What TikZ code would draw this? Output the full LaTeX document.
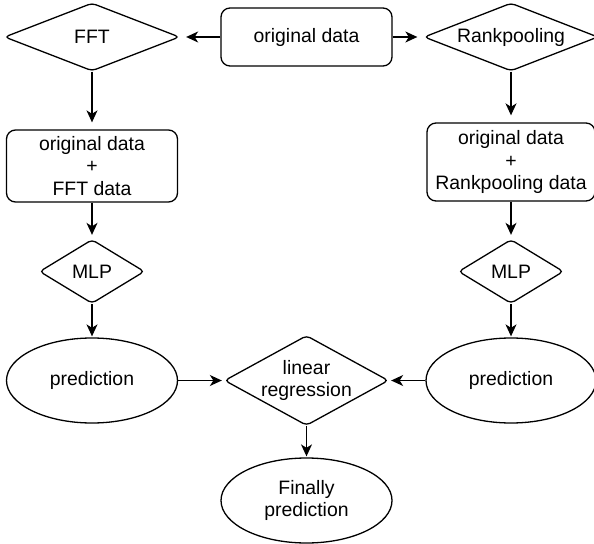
\documentclass[tikz,border=0pt]{standalone}
\usepackage{fontspec}
\setmainfont{Liberation Sans}
\usetikzlibrary{shapes.geometric,arrows.meta}
\begin{document}
\begin{tikzpicture}[x=1bp,y=-1bp,
  base/.style={draw, line width=1.3bp, font=\fontsize{19.5}{22.5}\selectfont, align=center, inner sep=0pt},
  dia/.style={base, diamond, rounded corners=4bp},
  box/.style={base, rectangle, rounded corners=9bp},
  ell/.style={base, ellipse},
  arr/.style={line width=1.3bp, -{Stealth[length=12bp,width=11bp,inset=3.5bp]}},
  lbl/.style={font=\fontsize{19.5}{22.5}\selectfont, align=center, inner sep=0pt}
]
\useasboundingbox (0,0) rectangle (594,544);

\node[box, minimum width=171bp, minimum height=58bp] (orig) at (306.5,37) {original data};
\node[dia, minimum width=175bp, minimum height=68bp, label={[lbl]center:FFT}] (fft) at (92,37) {};
\node[dia, minimum width=174bp, minimum height=68bp, label={[lbl]center:Rankpooling}] (rank) at (511,37) {};

\node[box, minimum width=171bp, minimum height=72bp] (lrect) at (92,166) {original data\\+\\FFT data};
\node[box, minimum width=168bp, minimum height=78bp] (rrect) at (511,162) {original data\\+\\Rankpooling data};

\node[dia, minimum width=105bp, minimum height=64bp, label={[lbl]center:MLP}] (lmlp) at (92,271.5) {};
\node[dia, minimum width=105bp, minimum height=64bp, label={[lbl]center:MLP}] (rmlp) at (511,271.5) {};

\node[ell, minimum width=171bp, minimum height=85bp] (lpred) at (92,380.5) {prediction};
\node[ell, minimum width=170bp, minimum height=85bp] (rpred) at (511,380.5) {prediction};
\node[dia, minimum width=164bp, minimum height=90bp, label={[lbl]center:linear\\regression}] (lr) at (306.5,380.5) {};

\node[ell, minimum width=171bp, minimum height=85bp] (fin) at (306.5,500.5) {Finally\\prediction};

\draw[arr, shorten >=6bp] (orig) -- (fft);
\draw[arr, shorten >=6bp] (orig) -- (rank);
\draw[arr, shorten >=7bp] (fft) -- (lrect);
\draw[arr, shorten >=7bp] (rank) -- (rrect);
\draw[arr, shorten >=4bp] (lrect) -- (lmlp);
\draw[arr, shorten >=4bp] (rrect) -- (rmlp);
\draw[arr, shorten >=1bp] (lmlp) -- (lpred);
\draw[arr, shorten >=1bp] (rmlp) -- (rpred);
\draw[arr, shorten >=2bp] (lpred) -- (lr);
\draw[arr, shorten >=2bp] (rpred) -- (lr);
\draw[arr, shorten >=1bp] (lr) -- (fin);
\end{tikzpicture}
\end{document}
